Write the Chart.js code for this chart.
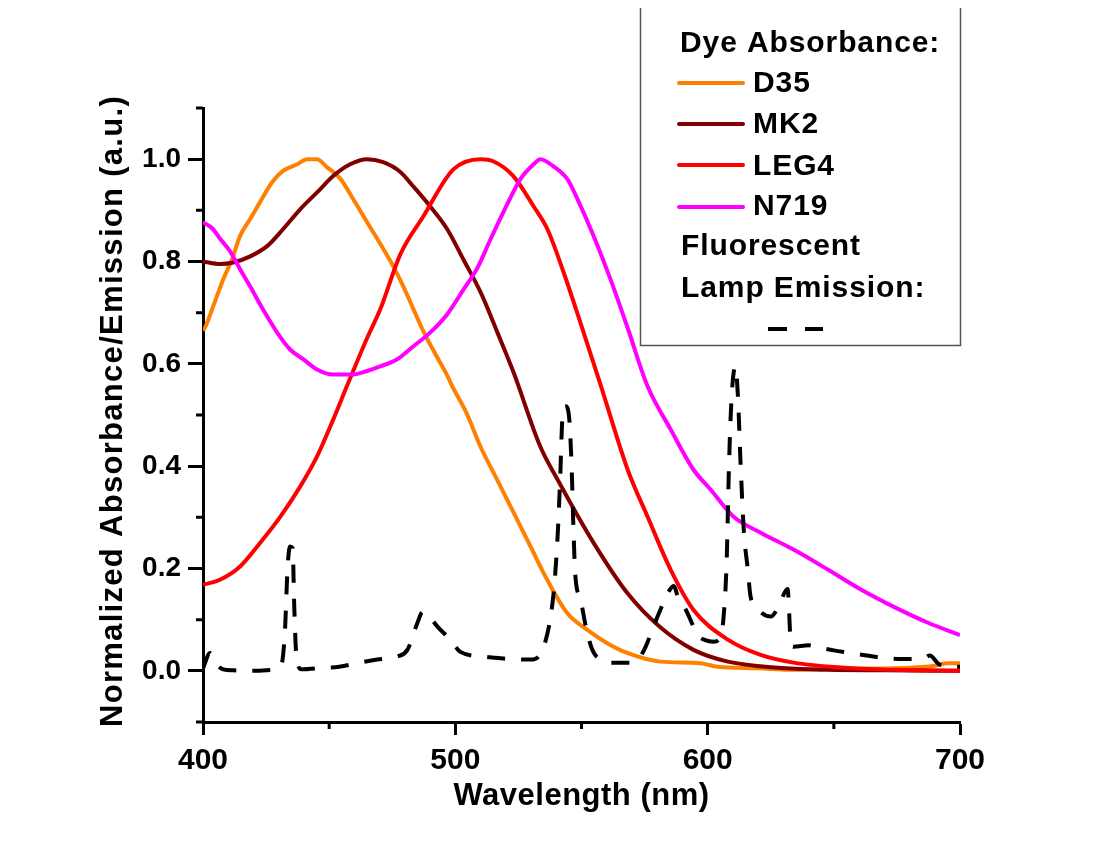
<!DOCTYPE html>
<html>
<head>
<meta charset="utf-8">
<script src="https://cdn.jsdelivr.net/npm/chart.js@4.4.1/dist/chart.umd.min.js"></script>
<style>
html,body{margin:0;padding:0;background:#fff;}
canvas{display:block;}
</style>
</head>
<body>
<canvas id="spec" width="1100" height="858"></canvas>
<script>
'use strict';

// ── Axis ticks ──
var xMajor = [400, 500, 600, 700];
var xMinor = [450, 550, 650];
var yMajor = [0, 0.2, 0.4, 0.6, 0.8, 1.0];
var yMinor = [-0.1, 0.1, 0.3, 0.5, 0.7, 0.9, 1.1];

// ── Dye absorbance (wavelength nm / normalized value) ──
var d35Nm  = [400,401,404,408,411.5,414.7,418.7,422.6,427.4,431.7,437.3,441.3,445.2,449.2,454.4,459.5,465,470.2,475.5,479.5,483.3,487.3,492.9,496.8,498.8,504.6,509.9,516.5,523.1,529.8,536.4,544.3,552.3,560.2,568.1,581.3,597,604,620,634,650,673.8,690,695,700];
var d35Abs = [0.665,0.673,0.712,0.765,0.804,0.85,0.883,0.916,0.955,0.977,0.99,1.0,1.0,0.984,0.962,0.922,0.877,0.835,0.79,0.75,0.708,0.664,0.612,0.577,0.556,0.502,0.439,0.374,0.309,0.243,0.178,0.113,0.08,0.054,0.035,0.018,0.015,0.008,0.005,0.002,0.004,0.005,0.01,0.015,0.015];

var mk2Nm  = [400,406.7,412,418.7,425.4,431.7,438.5,445.2,451.6,458.3,465,471.4,478.2,483.3,490,496.8,503.2,510,516.7,523.1,533.7,540.5,554.8,568,581,594.4,608,627.8,647.6,670,700];
var mk2Abs = [0.8,0.795,0.798,0.81,0.83,0.863,0.902,0.935,0.967,0.99,1.0,0.994,0.975,0.947,0.908,0.863,0.804,0.74,0.661,0.583,0.438,0.374,0.25,0.153,0.086,0.041,0.018,0.006,0.002,0.001,0.0];

var leg4Nm  = [400,406.7,414.7,422.6,430.6,438.5,445.2,451.6,457,465,470.2,478.2,487.3,499.2,510,515,523,531,536.5,542.9,549.6,557.5,568.3,576.2,585.3,594.4,608,621,634,654,674,700];
var leg4Abs = [0.168,0.178,0.204,0.25,0.301,0.36,0.419,0.491,0.556,0.65,0.706,0.814,0.888,0.98,1.0,0.996,0.967,0.908,0.863,0.779,0.68,0.56,0.393,0.301,0.198,0.119,0.061,0.031,0.016,0.006,0.002,0.0];

var n719Nm  = [400,403.6,406.7,410.7,414.7,418.7,423.8,429.4,434.5,439.7,445.2,451.6,459.5,465,470.2,477,483.3,490,496.8,503.2,508.7,513.9,519,525.8,531,533.7,538.9,544.4,548.4,554.8,561.5,568.3,576.2,585.3,594.4,601.2,610.3,621,634,647.6,660.7,673.8,687.3,700];
var n719Abs = [0.877,0.865,0.845,0.82,0.785,0.751,0.706,0.661,0.628,0.609,0.589,0.579,0.579,0.586,0.595,0.609,0.634,0.661,0.697,0.745,0.787,0.843,0.896,0.961,0.99,1.0,0.986,0.961,0.922,0.85,0.765,0.67,0.556,0.472,0.393,0.354,0.301,0.27,0.237,0.198,0.159,0.125,0.094,0.07];

// ── Fluorescent lamp emission ──
var lampNm  = [400,402.8,405,408,412,420,428,431,432.5,433.5,434.5,435.5,436.2,437,439,447.6,454,462,469,477,481,485,487,489,493,498,502,511,517,525,530,533,535,538.9,540.5,541.5,542.5,543.7,545,546,546.8,547.5,549.6,552,554.4,558,561.5,568.3,572,575.4,578,581.3,584,586.5,588.5,591.3,594.4,596,599,602.4,605.2,606.3,607.5,608.5,609.5,611,612,613,614.3,615.9,617,618.3,621,625,628,631.7,632.3,632.9,634,640,644.8,650,656.7,663,669.8,677,685.7,688,692,699.2,700];
var lampEm  = [0.005,0.035,0.015,0.003,0.001,0,0.002,0.01,0.08,0.2,0.243,0.24,0.12,0.03,0.003,0.006,0.008,0.016,0.022,0.028,0.041,0.094,0.115,0.11,0.086,0.061,0.037,0.028,0.025,0.022,0.022,0.028,0.045,0.15,0.26,0.37,0.5,0.517,0.5,0.41,0.28,0.19,0.14,0.08,0.04,0.02,0.016,0.016,0.02,0.047,0.08,0.12,0.15,0.166,0.14,0.12,0.086,0.07,0.06,0.057,0.067,0.105,0.21,0.41,0.536,0.595,0.536,0.41,0.276,0.198,0.145,0.133,0.115,0.106,0.125,0.16,0.113,0.055,0.047,0.05,0.045,0.04,0.035,0.03,0.025,0.023,0.025,0.03,0.012,0.008,0.008];

var FONT = "'Liberation Sans', Arial, sans-serif";
var C_D35 = '#ff8000', C_MK2 = '#800000', C_LEG4 = '#ff0000', C_N719 = '#ff00ff';

function pts(xs, ys){
  return xs.map(function(x, i){ return {x: x, y: ys[i]}; });
}

function txt(ctx, s, x, y, size, spacing){
  ctx.font = 'bold ' + size + 'px ' + FONT;
  ctx.letterSpacing = (spacing || 0) + 'px';
  ctx.fillText(s, x, y);
}

// ── Minor ticks, axis titles and the boxed legend ──
var decorPlugin = {
  id: 'decor',
  afterDraw: function(chart){
    var ctx = chart.ctx, xs = chart.scales.x, ys = chart.scales.y;
    var area = chart.chartArea;
    ctx.save();
    ctx.strokeStyle = '#000';
    ctx.lineWidth = 3;
    ctx.beginPath();
    xMinor.forEach(function(v){
      var px = xs.getPixelForValue(v);
      ctx.moveTo(px, area.bottom); ctx.lineTo(px, area.bottom + 7);
    });
    yMinor.forEach(function(v){
      var py = ys.getPixelForValue(v);
      ctx.moveTo(area.left, py); ctx.lineTo(area.left - 7, py);
    });
    ctx.stroke();

    ctx.fillStyle = '#000';
    ctx.textBaseline = 'alphabetic';

    // x title
    ctx.textAlign = 'center';
    txt(ctx, 'Wavelength (nm)', (area.left + area.right) / 2, 805, 31, 0.5);

    // y title
    ctx.save();
    ctx.translate(122, 411);
    ctx.rotate(-Math.PI / 2);
    txt(ctx, 'Normalized Absorbance/Emission (a.u.)', 0, 0, 31, 1.3);
    ctx.restore();

    // legend box (top edge falls outside the picture)
    ctx.strokeStyle = '#555';
    ctx.lineWidth = 1.5;
    ctx.beginPath();
    ctx.moveTo(640.5, 8); ctx.lineTo(640.5, 345.5); ctx.lineTo(960.5, 345.5); ctx.lineTo(960.5, 8);
    ctx.stroke();

    ctx.textAlign = 'left';
    txt(ctx, 'Dye Absorbance:', 680, 52, 30, 0.9);
    var rows = [['D35', C_D35, 83, 92], ['MK2', C_MK2, 124, 133], ['LEG4', C_LEG4, 165, 175], ['N719', C_N719, 207, 215]];
    rows.forEach(function(r){
      ctx.strokeStyle = r[1];
      ctx.lineWidth = 4;
      ctx.lineCap = 'round';
      ctx.beginPath(); ctx.moveTo(679, r[2]); ctx.lineTo(743, r[2]); ctx.stroke();
      txt(ctx, r[0], 753, r[3], 30, 0.9);
    });
    txt(ctx, 'Fluorescent', 681, 255, 30, 0.9);
    txt(ctx, 'Lamp Emission:', 681, 297, 30, 0.9);
    ctx.strokeStyle = '#000';
    ctx.lineCap = 'butt';
    ctx.lineWidth = 4;
    ctx.beginPath();
    ctx.moveTo(768, 329); ctx.lineTo(787, 329);
    ctx.moveTo(805, 329); ctx.lineTo(823, 329);
    ctx.stroke();
    ctx.restore();
  }
};

var ctx = document.getElementById('spec').getContext('2d');
new Chart(ctx, {
  type: 'line',
  data: {
    datasets: [
      { label: 'Fluorescent Lamp Emission', data: pts(lampNm, lampEm), borderColor: '#000', borderDash: [18, 16], borderWidth: 4, order: 0 },
      { label: 'N719', data: pts(n719Nm, n719Abs), borderColor: C_N719, order: 1 },
      { label: 'LEG4', data: pts(leg4Nm, leg4Abs), borderColor: C_LEG4, order: 2 },
      { label: 'MK2', data: pts(mk2Nm, mk2Abs), borderColor: C_MK2, order: 3 },
      { label: 'D35', data: pts(d35Nm, d35Abs), borderColor: C_D35, order: 4 }
    ]
  },
  options: {
    responsive: false,
    animation: false,
    layout: { padding: { left: 0, top: 108, right: 140, bottom: 0 } },
    elements: {
      point: { radius: 0 },
      line: { borderWidth: 4, fill: false, cubicInterpolationMode: 'monotone' }
    },
    plugins: { legend: { display: false }, tooltip: { enabled: false } },
    scales: {
      x: {
        type: 'linear', min: 400, max: 700,
        afterBuildTicks: function(s){ s.ticks = xMajor.map(function(v){ return {value: v}; }); },
        afterFit: function(s){ s.height = 136; },
        grid: { display: true, drawOnChartArea: false, drawTicks: true, tickLength: 13, tickWidth: 3, tickColor: '#000' },
        border: { display: true, color: '#000', width: 3 },
        ticks: { color: '#000', padding: 8, maxRotation: 0, font: { family: FONT, size: 30, weight: 'bold' },
          callback: function(v){ return String(v); } }
      },
      y: {
        type: 'linear', min: -0.1, max: 1.1,
        afterBuildTicks: function(s){ s.ticks = yMajor.map(function(v){ return {value: v}; }); },
        afterFit: function(s){ s.width = 203; },
        grid: { display: true, drawOnChartArea: false, drawTicks: true, tickLength: 15, tickWidth: 3, tickColor: '#000' },
        border: { display: true, color: '#000', width: 3 },
        ticks: { color: '#000', padding: 7, font: { family: FONT, size: 28, weight: 'bold' },
          callback: function(v){ return Number(v).toFixed(1); } }
      }
    }
  },
  plugins: [decorPlugin]
});
</script>
</body>
</html>
